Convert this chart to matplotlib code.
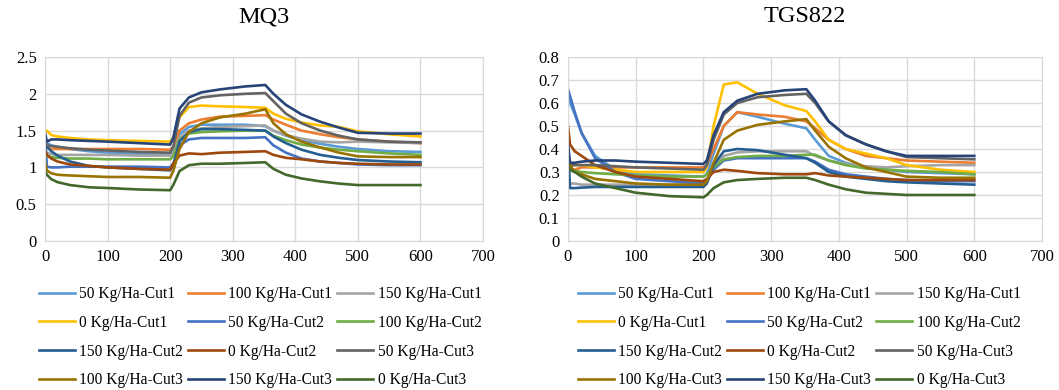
import matplotlib
matplotlib.use("Agg")
from matplotlib import pyplot as plt

plt.rcParams['font.family'] = ['Liberation Serif', 'DejaVu Serif']

# 时间点 (s)
t = [0, 3, 10, 20, 40, 70, 100, 150, 200, 205, 215, 230, 250, 280, 320, 352,
     365, 385, 410, 440, 470, 500, 550, 600]

labels = ['50 Kg/Ha-Cut1', '100 Kg/Ha-Cut1', '150 Kg/Ha-Cut1', '0 Kg/Ha-Cut1',
          '50 Kg/Ha-Cut2', '100 Kg/Ha-Cut2', '150 Kg/Ha-Cut2', '0 Kg/Ha-Cut2',
          '50 Kg/Ha-Cut3', '100 Kg/Ha-Cut3', '150 Kg/Ha-Cut3', '0 Kg/Ha-Cut3']
colors = ['#5B9BD5', '#ED7D31', '#A5A5A5', '#FFC000', '#4472C4', '#70AD47',
          '#255E91', '#9E480E', '#636363', '#997300', '#264478', '#43682B']

# MQ3
mq3_50_c1 = [1.35, 1.33, 1.30, 1.28, 1.25, 1.22, 1.20, 1.18, 1.17, 1.20, 1.45, 1.55, 1.58, 1.58, 1.58, 1.56, 1.50, 1.43, 1.37, 1.32, 1.28, 1.25, 1.22, 1.21]
mq3_100_c1 = [1.30, 1.27, 1.25, 1.25, 1.25, 1.25, 1.25, 1.25, 1.24, 1.28, 1.50, 1.60, 1.65, 1.69, 1.70, 1.71, 1.65, 1.58, 1.50, 1.45, 1.41, 1.38, 1.35, 1.33]
mq3_150_c1 = [1.22, 1.20, 1.18, 1.17, 1.17, 1.17, 1.17, 1.16, 1.16, 1.20, 1.40, 1.50, 1.53, 1.55, 1.56, 1.57, 1.50, 1.44, 1.39, 1.35, 1.34, 1.35, 1.34, 1.33]
mq3_0_c1 = [1.48, 1.50, 1.44, 1.42, 1.40, 1.38, 1.37, 1.36, 1.35, 1.40, 1.68, 1.82, 1.84, 1.83, 1.82, 1.81, 1.73, 1.66, 1.61, 1.57, 1.55, 1.49, 1.45, 1.42]
mq3_50_c2 = [1.45, 1.01, 1.00, 1.00, 1.01, 1.01, 1.01, 1.01, 1.00, 1.05, 1.30, 1.38, 1.40, 1.40, 1.40, 1.41, 1.30, 1.20, 1.12, 1.08, 1.06, 1.04, 1.03, 1.03]
mq3_100_c2 = [1.17, 1.15, 1.14, 1.13, 1.12, 1.12, 1.11, 1.11, 1.11, 1.15, 1.38, 1.46, 1.48, 1.49, 1.50, 1.50, 1.43, 1.37, 1.31, 1.27, 1.24, 1.22, 1.19, 1.17]
mq3_150_c2 = [1.30, 1.28, 1.22, 1.16, 1.08, 1.02, 1.00, 0.98, 0.96, 1.02, 1.35, 1.48, 1.52, 1.52, 1.51, 1.50, 1.42, 1.33, 1.24, 1.17, 1.13, 1.10, 1.08, 1.07]
mq3_0_c2 = [1.23, 1.17, 1.12, 1.08, 1.04, 1.02, 1.00, 0.98, 0.97, 1.05, 1.16, 1.19, 1.18, 1.20, 1.21, 1.22, 1.17, 1.13, 1.11, 1.08, 1.06, 1.05, 1.04, 1.04]
mq3_50_c3 = [1.35, 1.30, 1.29, 1.28, 1.26, 1.24, 1.23, 1.21, 1.20, 1.28, 1.70, 1.88, 1.95, 1.98, 2.00, 2.01, 1.90, 1.73, 1.60, 1.50, 1.43, 1.38, 1.35, 1.34]
mq3_100_c3 = [1.07, 0.96, 0.92, 0.90, 0.89, 0.88, 0.87, 0.87, 0.86, 0.95, 1.25, 1.48, 1.60, 1.68, 1.73, 1.79, 1.60, 1.45, 1.35, 1.27, 1.20, 1.15, 1.14, 1.14]
mq3_150_c3 = [1.47, 1.35, 1.38, 1.38, 1.37, 1.36, 1.35, 1.33, 1.31, 1.40, 1.80, 1.95, 2.02, 2.06, 2.10, 2.12, 2.00, 1.85, 1.72, 1.62, 1.54, 1.47, 1.46, 1.46]
mq3_0_c3 = [0.96, 0.90, 0.84, 0.80, 0.76, 0.73, 0.72, 0.70, 0.69, 0.76, 0.95, 1.03, 1.05, 1.05, 1.06, 1.07, 0.98, 0.90, 0.85, 0.81, 0.78, 0.76, 0.76, 0.76]

# TGS822
tgs_50_c1 = [0.62, 0.60, 0.55, 0.47, 0.37, 0.31, 0.29, 0.285, 0.28, 0.29, 0.38, 0.50, 0.56, 0.54, 0.51, 0.49, 0.44, 0.37, 0.34, 0.32, 0.31, 0.30, 0.295, 0.29]
tgs_100_c1 = [0.31, 0.31, 0.31, 0.32, 0.32, 0.32, 0.32, 0.32, 0.32, 0.33, 0.40, 0.50, 0.56, 0.55, 0.54, 0.52, 0.49, 0.44, 0.40, 0.37, 0.36, 0.35, 0.345, 0.34]
tgs_150_c1 = [0.25, 0.25, 0.25, 0.245, 0.245, 0.245, 0.245, 0.245, 0.245, 0.26, 0.32, 0.37, 0.385, 0.39, 0.39, 0.39, 0.37, 0.35, 0.335, 0.325, 0.32, 0.325, 0.33, 0.33]
tgs_0_c1 = [0.33, 0.33, 0.33, 0.33, 0.32, 0.31, 0.30, 0.30, 0.30, 0.32, 0.50, 0.68, 0.69, 0.64, 0.59, 0.565, 0.52, 0.44, 0.40, 0.38, 0.36, 0.33, 0.31, 0.30]
tgs_50_c2 = [0.66, 0.63, 0.56, 0.47, 0.36, 0.30, 0.27, 0.26, 0.25, 0.26, 0.31, 0.35, 0.36, 0.36, 0.36, 0.36, 0.345, 0.31, 0.29, 0.28, 0.27, 0.265, 0.26, 0.26]
tgs_100_c2 = [0.32, 0.31, 0.305, 0.30, 0.295, 0.29, 0.285, 0.28, 0.28, 0.29, 0.32, 0.355, 0.365, 0.37, 0.37, 0.375, 0.375, 0.35, 0.33, 0.315, 0.31, 0.305, 0.30, 0.29]
tgs_150_c2 = [0.42, 0.23, 0.23, 0.232, 0.235, 0.235, 0.235, 0.235, 0.235, 0.25, 0.33, 0.39, 0.40, 0.395, 0.375, 0.36, 0.34, 0.30, 0.28, 0.27, 0.26, 0.255, 0.25, 0.245]
tgs_0_c2 = [0.50, 0.42, 0.39, 0.37, 0.33, 0.30, 0.28, 0.27, 0.26, 0.27, 0.30, 0.31, 0.305, 0.295, 0.29, 0.29, 0.295, 0.285, 0.28, 0.275, 0.27, 0.265, 0.265, 0.265]
tgs_50_c3 = [0.33, 0.33, 0.33, 0.33, 0.33, 0.325, 0.32, 0.315, 0.31, 0.33, 0.44, 0.55, 0.60, 0.625, 0.635, 0.64, 0.60, 0.52, 0.46, 0.42, 0.39, 0.365, 0.36, 0.355]
tgs_100_c3 = [0.36, 0.33, 0.30, 0.29, 0.27, 0.26, 0.25, 0.245, 0.245, 0.26, 0.34, 0.44, 0.48, 0.505, 0.52, 0.53, 0.48, 0.41, 0.36, 0.32, 0.30, 0.28, 0.275, 0.275]
tgs_150_c3 = [0.42, 0.34, 0.34, 0.345, 0.35, 0.35, 0.345, 0.34, 0.335, 0.35, 0.46, 0.56, 0.61, 0.64, 0.655, 0.66, 0.61, 0.52, 0.46, 0.42, 0.39, 0.37, 0.37, 0.37]
tgs_0_c3 = [0.33, 0.31, 0.30, 0.28, 0.25, 0.23, 0.21, 0.195, 0.19, 0.20, 0.23, 0.255, 0.265, 0.27, 0.275, 0.275, 0.265, 0.245, 0.225, 0.21, 0.205, 0.20, 0.20, 0.20]

mq3 = [mq3_50_c1, mq3_100_c1, mq3_150_c1, mq3_0_c1, mq3_50_c2, mq3_100_c2,
       mq3_150_c2, mq3_0_c2, mq3_50_c3, mq3_100_c3, mq3_150_c3, mq3_0_c3]
tgs = [tgs_50_c1, tgs_100_c1, tgs_150_c1, tgs_0_c1, tgs_50_c2, tgs_100_c2,
       tgs_150_c2, tgs_0_c2, tgs_50_c3, tgs_100_c3, tgs_150_c3, tgs_0_c3]

fig = plt.figure(figsize=(10.59, 3.9), dpi=100)
ax1 = fig.add_axes([45/1059, 1-241/390, 438/1059, 184/390])
ax2 = fig.add_axes([568/1059, 1-241/390, 474/1059, 184/390])

# 行优先排列图例
order = [0, 3, 6, 9, 1, 4, 7, 10, 2, 5, 8, 11]

for ax, data, title, ymax, step, lx in [(ax1, mq3, 'MQ3', 2.5, 0.5, 39/1059),
                                         (ax2, tgs, 'TGS822', 0.8, 0.1, 578/1059)]:
    lines = []
    for y, c, lab in zip(data, colors, labels):
        ln, = ax.plot(t, y, color=c, lw=1.9, label=lab)
        lines.append(ln)
    ax.set_xlim(0, 700)
    ax.set_ylim(0, ymax)
    ax.set_xticks(range(0, 701, 100))
    n = int(round(ymax/step))
    ax.set_yticks([round(i*step, 2) for i in range(n+1)])
    ax.set_yticklabels(['%g' % round(i*step, 2) for i in range(n+1)])
    ax.grid(True, color='#D9D9D9', lw=1)
    ax.set_axisbelow(True)
    for s in ax.spines.values():
        s.set_color('#D9D9D9')
    ax.tick_params(length=0, labelsize=12, pad=6)
    ax.set_title(title, fontsize=17.5, pad=25)
    fig.legend([lines[i] for i in order], [labels[i] for i in order],
               loc='upper left', bbox_to_anchor=(lx, 1-286/390), ncol=3,
               frameon=False, fontsize=11.2, handlelength=2.3,
               handletextpad=0.3, columnspacing=0.3, labelspacing=0.82,
               borderpad=0, borderaxespad=0)

plt.savefig('out.png', dpi=100)
